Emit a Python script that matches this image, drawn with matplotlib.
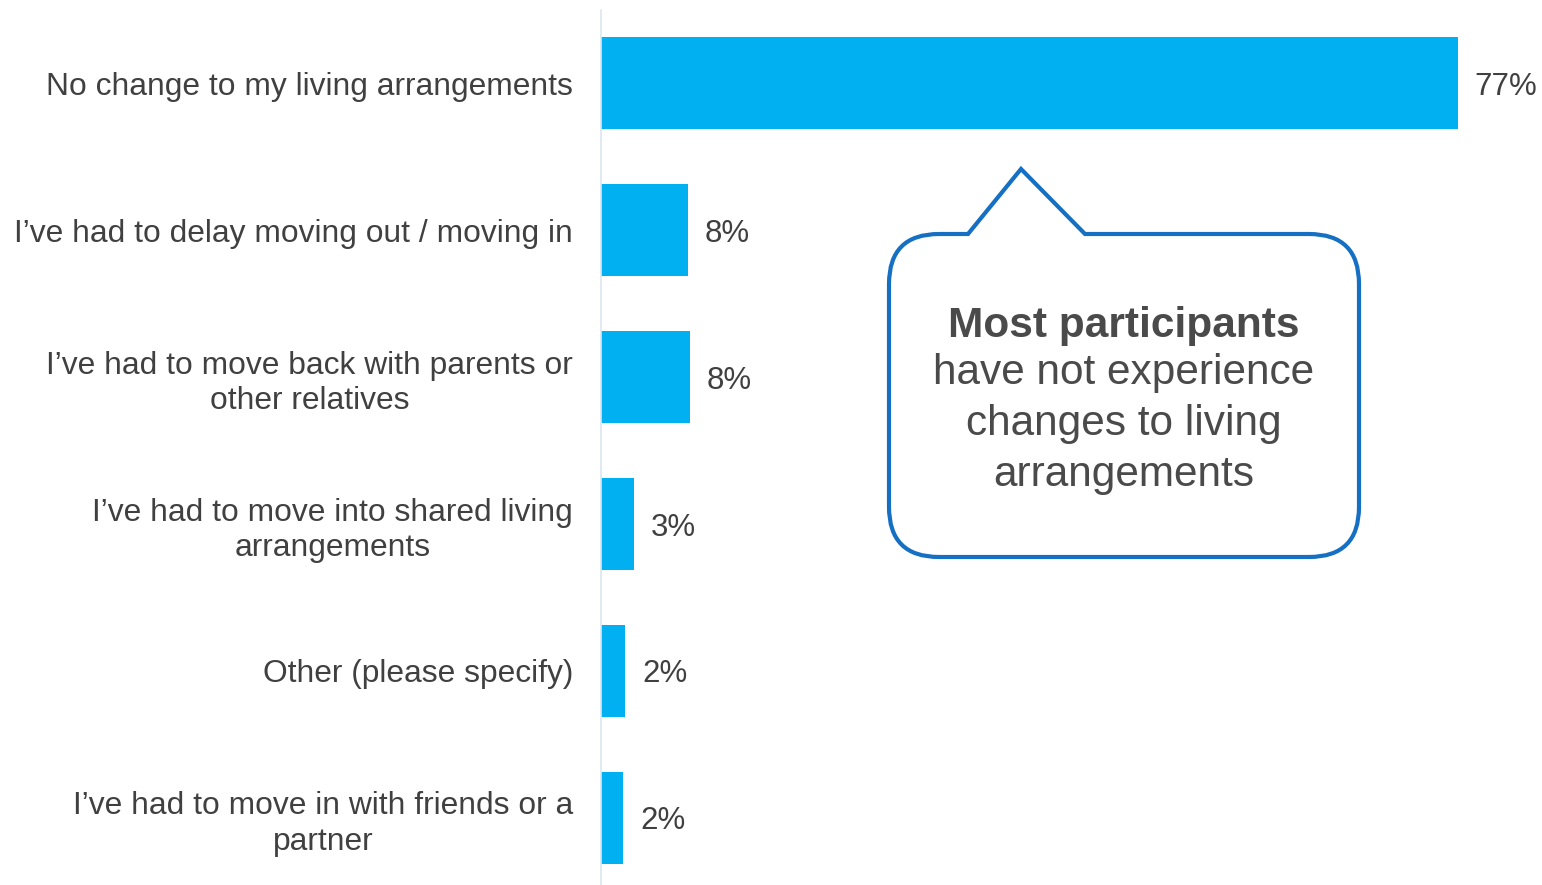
import numpy as np
import matplotlib
matplotlib.use('Agg')
import matplotlib.pyplot as plt
from matplotlib.path import Path
from matplotlib.patches import PathPatch

categories = ['No change to my living arrangements',
              'I\u2019ve had to delay moving out / moving in',
              'I\u2019ve had to move back with parents or\nother relatives',
              'I\u2019ve had to move into shared living\narrangements',
              'Other (please specify)',
              'I\u2019ve had to move in with friends or a\npartner']
values = [77.0, 7.8, 8.0, 3.0, 2.2, 2.0]
value_labels = ['77%', '8%', '8%', '3%', '2%', '2%']
callout_bold = 'Most participants'
callout_text = 'have not experience\nchanges to living\narrangements'

bar_color = '#00b0f0'
text_color = '#404040'
box_color = '#1570c4'

plt.rcParams['font.family'] = ['Liberation Sans', 'DejaVu Sans']

fig = plt.figure(figsize=(15.42, 8.85), dpi=100)
ax = fig.add_axes([601 / 1542, 0, 941 / 1542, 875 / 885])

y = np.arange(len(categories))
ax.barh(y, values, height=0.626, color=bar_color)
ax.set_xlim(0, 84.55)
ax.set_ylim(5.456, -0.497)
ax.set_yticks(y)
ax.set_yticklabels(categories, fontsize=22.9, color=text_color, linespacing=1.25)
for lab in ax.get_yticklabels():
    lab.set_multialignment('center')
ax.tick_params(axis='y', length=0, pad=20)
ax.set_xticks([])
for s in ['top', 'right', 'bottom']:
    ax.spines[s].set_visible(False)
ax.spines['left'].set_color('#dce6ef')
ax.spines['left'].set_linewidth(1.2)

for yi, v, lab in zip(y, values, value_labels):
    ax.annotate(lab, (v, yi), xytext=(12, 0), textcoords='offset points',
                ha='left', va='center_baseline', fontsize=22.5, color=text_color)

# speech-bubble callout (pixel coords, y downward)
x0, x1, y0, y1, r = 889, 1359, 234, 557, 50
pts = [(x0 + r, y0), (968, y0), (1021, 169), (1085, y0), (x1 - r, y0),
       (x1, y0), (x1, y0 + r), (x1, y1 - r), (x1, y1), (x1 - r, y1),
       (x0 + r, y1), (x0, y1), (x0, y1 - r), (x0, y0 + r), (x0, y0), (x0 + r, y0)]
codes = [Path.MOVETO, Path.LINETO, Path.LINETO, Path.LINETO, Path.LINETO,
         Path.CURVE3, Path.CURVE3, Path.LINETO, Path.CURVE3, Path.CURVE3,
         Path.LINETO, Path.CURVE3, Path.CURVE3, Path.LINETO, Path.CURVE3, Path.CURVE3]
verts = [(px / 100, (885 - py) / 100) for px, py in pts]
bubble = PathPatch(Path(verts, codes), facecolor='white', edgecolor=box_color,
                   linewidth=3, joinstyle='miter', transform=fig.dpi_scale_trans)
fig.patches.append(bubble)

fig.text(1124 / 1542, 1 - 321 / 885, callout_bold, ha='center', va='center_baseline',
         fontsize=30.5, fontweight='bold', color='#4a4a4a')
fig.text(1124 / 1542, 1 - 424 / 885, callout_text, ha='center', va='center',
         fontsize=30.5, color='#4a4a4a', linespacing=1.36)

fig.savefig('out.png', dpi=100)
